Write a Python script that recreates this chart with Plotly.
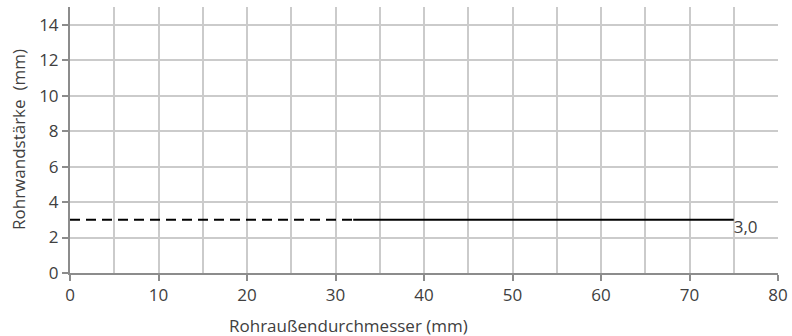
import plotly.graph_objects as go

dashed_x = [0, 32]
dashed_y = [3.0, 3.0]
solid_x = [32, 75]
solid_y = [3.0, 3.0]
label_text = "3,0"

FONT = "Open Sans"
FS = 17
W, H = 792, 336
l, r, t, b = 70, 14, 7, 63
pw, ph = W - l - r, H - t - b
GRID = "#cbcbcb"
AXIS = "#8c8c8c"

fig = go.Figure()
fig.add_trace(go.Scatter(x=dashed_x, y=dashed_y, mode="lines",
                         line=dict(color="black", width=2, dash="10px,6px"),
                         showlegend=False, hoverinfo="skip"))
fig.add_trace(go.Scatter(x=solid_x, y=solid_y, mode="lines+text",
                         line=dict(color="black", width=2),
                         text=["", label_text], textposition="bottom right",
                         textfont=dict(family=FONT, size=FS, color="#404040"),
                         showlegend=False, hoverinfo="skip", cliponaxis=False))

fig.update_layout(
    width=W, height=H,
    margin=dict(l=l, r=r, t=t, b=b, autoexpand=False),
    plot_bgcolor="white", paper_bgcolor="white",
    font=dict(family=FONT, size=FS, color="#404040"),
    hovermode=False,
    xaxis=dict(range=[0, 80], tickmode="linear", tick0=0, dtick=10,
               showgrid=True, gridcolor=GRID, gridwidth=2,
               showline=True, linecolor=AXIS, linewidth=2,
               ticks="outside", ticklen=6, tickcolor=AXIS, tickwidth=2,
               zeroline=False, fixedrange=True, automargin=False,
               minor=dict(dtick=5, showgrid=True, gridcolor=GRID, gridwidth=2)),
    yaxis=dict(range=[0, 15], tickmode="linear", tick0=0, dtick=2,
               showgrid=True, gridcolor=GRID, gridwidth=2,
               showline=True, linecolor=AXIS, linewidth=2,
               ticks="outside", ticklen=6, tickcolor=AXIS, tickwidth=2,
               zeroline=False, fixedrange=True, automargin=False),
    annotations=[
        dict(text="Rohraußendurchmesser (mm)",
             x=(348 - l) / pw, y=(H - b - 325) / ph, xref="paper", yref="paper",
             xanchor="center", yanchor="middle", showarrow=False, font=dict(size=FS)),
        dict(text="Rohrwandstärke  (mm)",
             x=(18 - l) / pw, y=(H - b - 140) / ph, xref="paper", yref="paper",
             xanchor="center", yanchor="middle", showarrow=False,
             textangle=-90, font=dict(size=FS)),
    ],
)
fig.write_html(
    "out.html",
    config={"displayModeBar": False, "staticPlot": True},
    post_script="document.body.style.margin='0';document.body.style.overflow='hidden';",
)
